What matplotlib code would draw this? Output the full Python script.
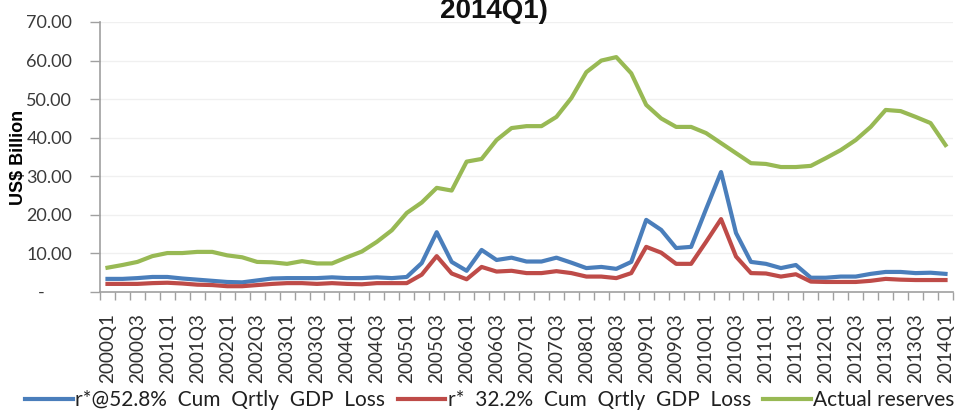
import matplotlib
matplotlib.use("Agg")
import matplotlib.pyplot as plt
import numpy as np

quarters = [f"{y}Q{q}" for y in range(2000, 2014) for q in range(1, 5)] + ["2014Q1"]

blue_52 = [3.4, 3.4, 3.6, 3.9, 3.9, 3.5, 3.2, 2.9, 2.6, 2.5,
           3.0, 3.5, 3.6, 3.6, 3.6, 3.8, 3.6, 3.6, 3.8, 3.6,
           3.9, 7.5, 15.5, 7.8, 5.5, 10.9, 8.3, 8.9, 7.9, 7.9,
           8.9, 7.6, 6.2, 6.5, 6.0, 7.8, 18.7, 16.1, 11.4, 11.7,
           21.5, 31.1, 15.3, 7.8, 7.3, 6.2, 7.0, 3.7, 3.7, 4.0,
           4.0, 4.7, 5.2, 5.2, 4.9, 5.0, 4.7]

red_32 = [2.1, 2.1, 2.1, 2.3, 2.4, 2.2, 1.9, 1.8, 1.5, 1.5,
          1.8, 2.1, 2.3, 2.3, 2.1, 2.3, 2.1, 2.0, 2.3, 2.3,
          2.3, 4.5, 9.3, 4.8, 3.3, 6.5, 5.3, 5.5, 4.9, 4.9,
          5.4, 4.9, 4.0, 4.0, 3.6, 4.9, 11.7, 10.2, 7.3, 7.3,
          13.0, 18.9, 9.2, 4.9, 4.8, 4.0, 4.6, 2.7, 2.6, 2.6,
          2.6, 2.9, 3.4, 3.2, 3.1, 3.1, 3.1]

actual = [6.3, 7.0, 7.8, 9.3, 10.1, 10.1, 10.4, 10.4, 9.5, 9.0,
          7.8, 7.7, 7.3, 8.0, 7.4, 7.4, 9.0, 10.5, 13.0, 16.0,
          20.5, 23.2, 27.0, 26.3, 33.8, 34.5, 39.4, 42.5, 43.0, 43.0,
          45.4, 50.3, 57.0, 60.0, 60.9, 56.7, 48.5, 45.0, 42.8, 42.8,
          41.2, 38.6, 36.0, 33.4, 33.2, 32.4, 32.4, 32.7, 34.7, 36.8,
          39.4, 42.8, 47.2, 46.9, 45.4, 43.8, 38.1]

series_names = ["r*@52.8%  Cum  Qrtly  GDP  Loss",
                "r*  32.2%  Cum  Qrtly  GDP  Loss",
                "Actual reserves"]
colors = ["#4A7EBB", "#BE4B48", "#98B954"]
yticks = [0, 10, 20, 30, 40, 50, 60, 70]
ytick_labels = ["-      ", "10.00", "20.00", "30.00", "40.00", "50.00", "60.00", "70.00"]

fig = plt.figure(figsize=(9.64, 4.12), dpi=100)
ax = fig.add_axes([100/964, 1-292/412, 853/964, 270/412])

x = np.arange(len(quarters))
lines = []
for vals, c, name in zip([blue_52, red_32, actual], colors, series_names):
    ln, = ax.plot(x, vals, color=c, lw=3.0, label=name)
    lines.append(ln)

ax.set_xlim(-0.5, len(quarters) - 0.5)
ax.set_ylim(0, 70)
ax.set_yticks(yticks)
ax.set_yticklabels(ytick_labels, fontfamily="Lato", fontsize=13, color="#3A3A3A")
ax.grid(axis='y', color="#F0F0F0", lw=1)
ax.set_axisbelow(True)

ax.set_xticks(x[::2])
ax.set_xticklabels(quarters[::2], rotation=90, fontfamily="Lato", fontsize=13.6, color="#303030")
ax.set_xticks(np.arange(-0.5, len(quarters) + 0.5, 1), minor=True)
ax.tick_params(axis='x', which='major', length=0, pad=15)
ax.tick_params(axis='x', which='minor', length=6, color="#A0A0A0", width=1)
ax.tick_params(axis='y', length=7, color="#A0A0A0", width=1, pad=13)

for s in ["top", "right"]:
    ax.spines[s].set_visible(False)
for s in ["left", "bottom"]:
    ax.spines[s].set_color("#A0A0A0")
    ax.spines[s].set_linewidth(1.2)

fig.text(19/964, 1-157/412, "US$ Billion", rotation=90, ha='center', va='center',
         fontfamily="Liberation Sans", fontweight='bold', fontsize=13, color="#000000")
fig.text(494/964, 1-18/412, "2014Q1)", ha='center', va='baseline',
         fontfamily="Liberation Sans", fontweight='bold', fontsize=20, color="#111111")

fig.legend(handles=lines, loc='center left', bbox_to_anchor=(25/964, 1-400/412),
           ncol=3, frameon=False, borderpad=0, borderaxespad=0,
           handlelength=2.3, handletextpad=0.1, columnspacing=0.6,
           prop={'family': 'Lato', 'size': 15}, labelcolor="#202020")

fig.savefig("out.png", dpi=100)
